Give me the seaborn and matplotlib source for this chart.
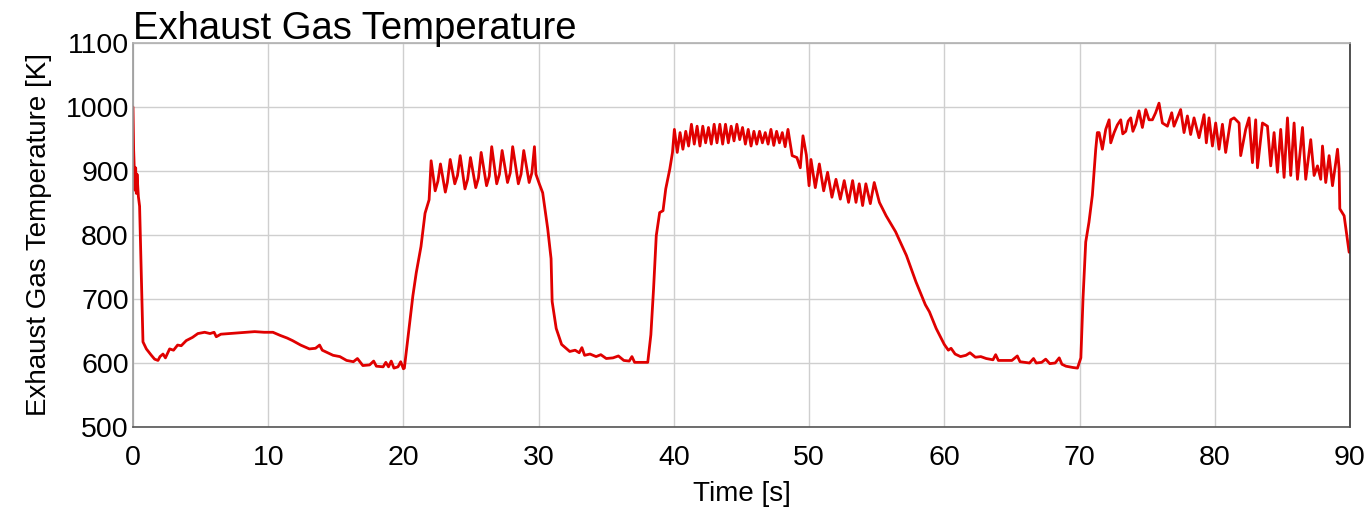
import pandas as pd
import seaborn as sns
import matplotlib.pyplot as plt

# -------------------------------------------------------------------
# Data (time [s], exhaust gas temperature [K])
# -------------------------------------------------------------------

# start-up drop and first idle phase (0 - 20 s)
t_idle1 = [0.0, 0.05, 0.1, 0.15, 0.2, 0.25, 0.3, 0.4, 0.49, 0.74, 0.99, 1.36, 1.6, 1.85,
           2.0, 2.22, 2.4, 2.71, 3.0, 3.3, 3.57, 3.94, 4.4, 4.8, 5.3, 5.7, 6.0, 6.16, 6.5,
           7.14, 7.8, 8.38, 9.0, 9.7, 10.35, 10.9, 11.4, 11.8, 12.4, 13.05, 13.5, 13.8,
           14.0, 14.4, 14.8, 15.3, 15.8, 16.3, 16.6, 17.0, 17.5, 17.8, 18.0, 18.5, 18.7,
           18.9, 19.1, 19.3, 19.6, 19.8, 20.0]
T_idle1 = [1000, 933, 902, 870, 905, 865, 895, 860, 845, 633, 622, 612, 606, 604,
           610, 614, 608, 622, 620, 628, 627, 635, 640, 646, 648, 646, 648, 641, 645,
           646, 647, 648, 649, 648, 648, 643, 639, 635, 628, 622, 623, 628,
           620, 616, 612, 610, 604, 602, 607, 596, 597, 603, 595, 594, 601,
           594, 603, 592, 594, 602, 591]

# first load step (20 - 30 s)
t_load1 = [20.07, 20.3, 20.7, 20.95, 21.3, 21.6, 21.9,
           22.05, 22.35, 22.55, 22.74, 23.1, 23.25, 23.46, 23.8, 24.0, 24.2, 24.55, 24.75,
           24.96, 25.35, 25.55, 25.75, 26.15, 26.35, 26.53, 26.9, 27.1, 27.3, 27.7, 27.9,
           28.08, 28.5, 28.7, 28.9, 29.3, 29.5, 29.69, 29.8, 30.05, 30.3]
T_load1 = [592, 633, 705, 741, 782, 834, 855,
           916, 869, 884, 911, 867, 882, 918, 880, 893, 924, 872, 887,
           921, 874, 889, 929, 877, 892, 938, 880, 895, 932, 882, 897,
           938, 880, 895, 932, 882, 897, 938, 895, 880, 866]

# second idle phase (30 - 38 s)
t_idle2 = [30.67, 30.92, 31.0, 31.3, 31.7, 32.3, 32.7, 33.0, 33.2, 33.4, 33.8, 34.25,
           34.6, 35.0, 35.5, 35.9, 36.3, 36.7, 36.9, 37.1, 37.5, 38.07]
T_idle2 = [810, 763, 696, 654, 629, 618, 620, 616, 624, 612, 614, 610,
           613, 607, 608, 611, 604, 603, 610, 601, 601, 601]

# second load step and slow decay (38 - 60 s)
t_load2 = [38.19, 38.3, 38.5, 38.7, 38.95, 39.2, 39.4, 39.7, 39.9,
           40.04, 40.25, 40.46, 40.67, 40.88, 41.09, 41.3, 41.51, 41.72, 41.93, 42.14,
           42.35, 42.56, 42.77, 42.98, 43.19, 43.4, 43.61, 43.82, 44.03, 44.24, 44.45,
           44.66, 44.87, 45.08, 45.29, 45.5, 45.71, 45.92, 46.13, 46.34, 46.55, 46.76,
           46.97, 47.18, 47.39, 47.6, 47.81, 48.02, 48.23, 48.44,
           48.75, 49.1, 49.35, 49.55, 49.8, 50.0,
           50.14, 50.46, 50.76, 51.08, 51.37, 51.69, 51.99, 52.31, 52.6, 52.92,
           53.22, 53.47, 53.71, 53.96, 54.2, 54.53, 54.82,
           55.2, 55.7, 56.4, 57.2, 57.9, 58.6, 58.9, 59.4]
T_load2 = [623, 644, 716, 799, 835, 838, 872, 903, 929,
           965, 929, 960, 934, 962, 939, 973, 942, 970, 939, 970,
           944, 968, 942, 973, 944, 973, 942, 973, 944, 970, 947,
           973, 949, 968, 942, 965, 939, 962, 942, 962, 944, 960,
           942, 965, 940, 962, 944, 960, 938, 965,
           924, 921, 905, 955, 925, 877,
           918, 874, 911, 869, 898, 859, 887, 856, 885, 851,
           885, 851, 880, 846, 880, 849, 882,
           851, 830, 805, 768, 727, 691, 680, 654]

# third idle phase (60 - 70 s)
t_idle3 = [60.0, 60.3, 60.5, 60.8, 61.2, 61.6, 61.9, 62.3, 62.7, 63.1, 63.6, 63.8,
           64.0, 64.5, 65.0, 65.4, 65.6, 66.3, 66.6, 66.8, 67.2, 67.5, 67.8, 68.2,
           68.5, 68.7, 69.0, 69.5, 69.85]
T_idle3 = [629, 620, 623, 614, 610, 612, 616, 609, 610, 607, 605, 613,
           604, 604, 604, 611, 602, 600, 607, 600, 601, 606, 599, 600,
           608, 598, 595, 593, 592]

# third load step (70 - 90 s)
t_load3 = [70.1, 70.26, 70.46, 70.7, 70.95, 71.2, 71.32,
           71.45, 71.69, 71.94, 72.19, 72.31, 72.56, 72.8, 73.05, 73.2, 73.42, 73.6,
           73.79, 73.95, 74.16, 74.4, 74.65, 74.9, 75.14, 75.39, 75.63, 75.88, 76.13,
           76.5, 76.82, 76.99, 77.48, 77.73, 77.98, 78.22, 78.47, 78.84, 79.21, 79.38,
           79.58, 79.83, 80.07, 80.32, 80.57, 80.81, 81.18, 81.43, 81.8, 81.92, 82.29,
           82.54, 82.79, 83.03, 83.16, 83.53, 83.9, 84.14, 84.39, 84.64, 84.88, 85.13,
           85.38, 85.62, 85.87, 86.12, 86.49, 86.73, 87.1, 87.35, 87.6, 87.84, 87.97,
           88.21, 88.46, 88.71, 88.95, 89.08, 89.2, 89.25, 89.57, 89.7, 89.94]
T_load3 = [608, 701, 789, 820, 862, 934, 960,
           960, 934, 965, 980, 944, 960, 972, 980, 958, 962, 978,
           983, 962, 973, 994, 968, 996, 980, 980, 991, 1006, 975,
           970, 991, 970, 996, 960, 986, 957, 983, 952, 988, 944,
           983, 939, 975, 934, 973, 929, 980, 983, 975, 924, 965,
           983, 913, 980, 905, 975, 970, 908, 960, 898, 965, 890,
           983, 893, 975, 887, 968, 887, 949, 893, 908, 887, 939,
           882, 924, 877, 913, 934, 903, 841, 830, 810, 773]

time_s = t_idle1 + t_load1 + t_idle2 + t_load2 + t_idle3 + t_load3
temp_K = T_idle1 + T_load1 + T_idle2 + T_load2 + T_idle3 + T_load3
df = pd.DataFrame({"time": time_s, "temp": temp_K})

# -------------------------------------------------------------------
# Plot
# -------------------------------------------------------------------
sns.set_style("whitegrid")
plt.rcParams["font.family"] = ["Liberation Sans", "DejaVu Sans"]
plt.rcParams["text.color"] = "black"
plt.rcParams["axes.labelcolor"] = "black"

fig = plt.figure(figsize=(13.68, 5.07), dpi=100)
ax = fig.add_axes([0.0972, 0.1578, 0.8896, 0.7574])

sns.lineplot(data=df, x="time", y="temp", estimator=None, sort=False,
             color="#e00000", linewidth=2.0, ax=ax)

ax.set_xlim(0, 90)
ax.set_ylim(500, 1100)
ax.set_xticks(range(0, 91, 10))
ax.set_yticks(range(500, 1101, 100))
ax.tick_params(axis="both", length=0, labelsize=20.5, colors="black")
ax.tick_params(axis="x", pad=13)
ax.tick_params(axis="y", pad=3)
ax.grid(True, color="#cfcfcf", linewidth=1.0)

ax.spines["bottom"].set_color("#555555")
ax.spines["left"].set_color("#999999")
ax.spines["top"].set_color("#b0b0b0")
ax.spines["right"].set_color("#333333")
for sp in ax.spines.values():
    sp.set_linewidth(1.2)

ax.set_xlabel("Time [s]", fontsize=20, labelpad=7)
ax.set_ylabel("Exhaust Gas Temperature [K]", fontsize=20, labelpad=10)
ax.set_title("Exhaust Gas Temperature", loc="left", fontsize=27.5, pad=3)

fig.savefig("out.png", dpi=100)
